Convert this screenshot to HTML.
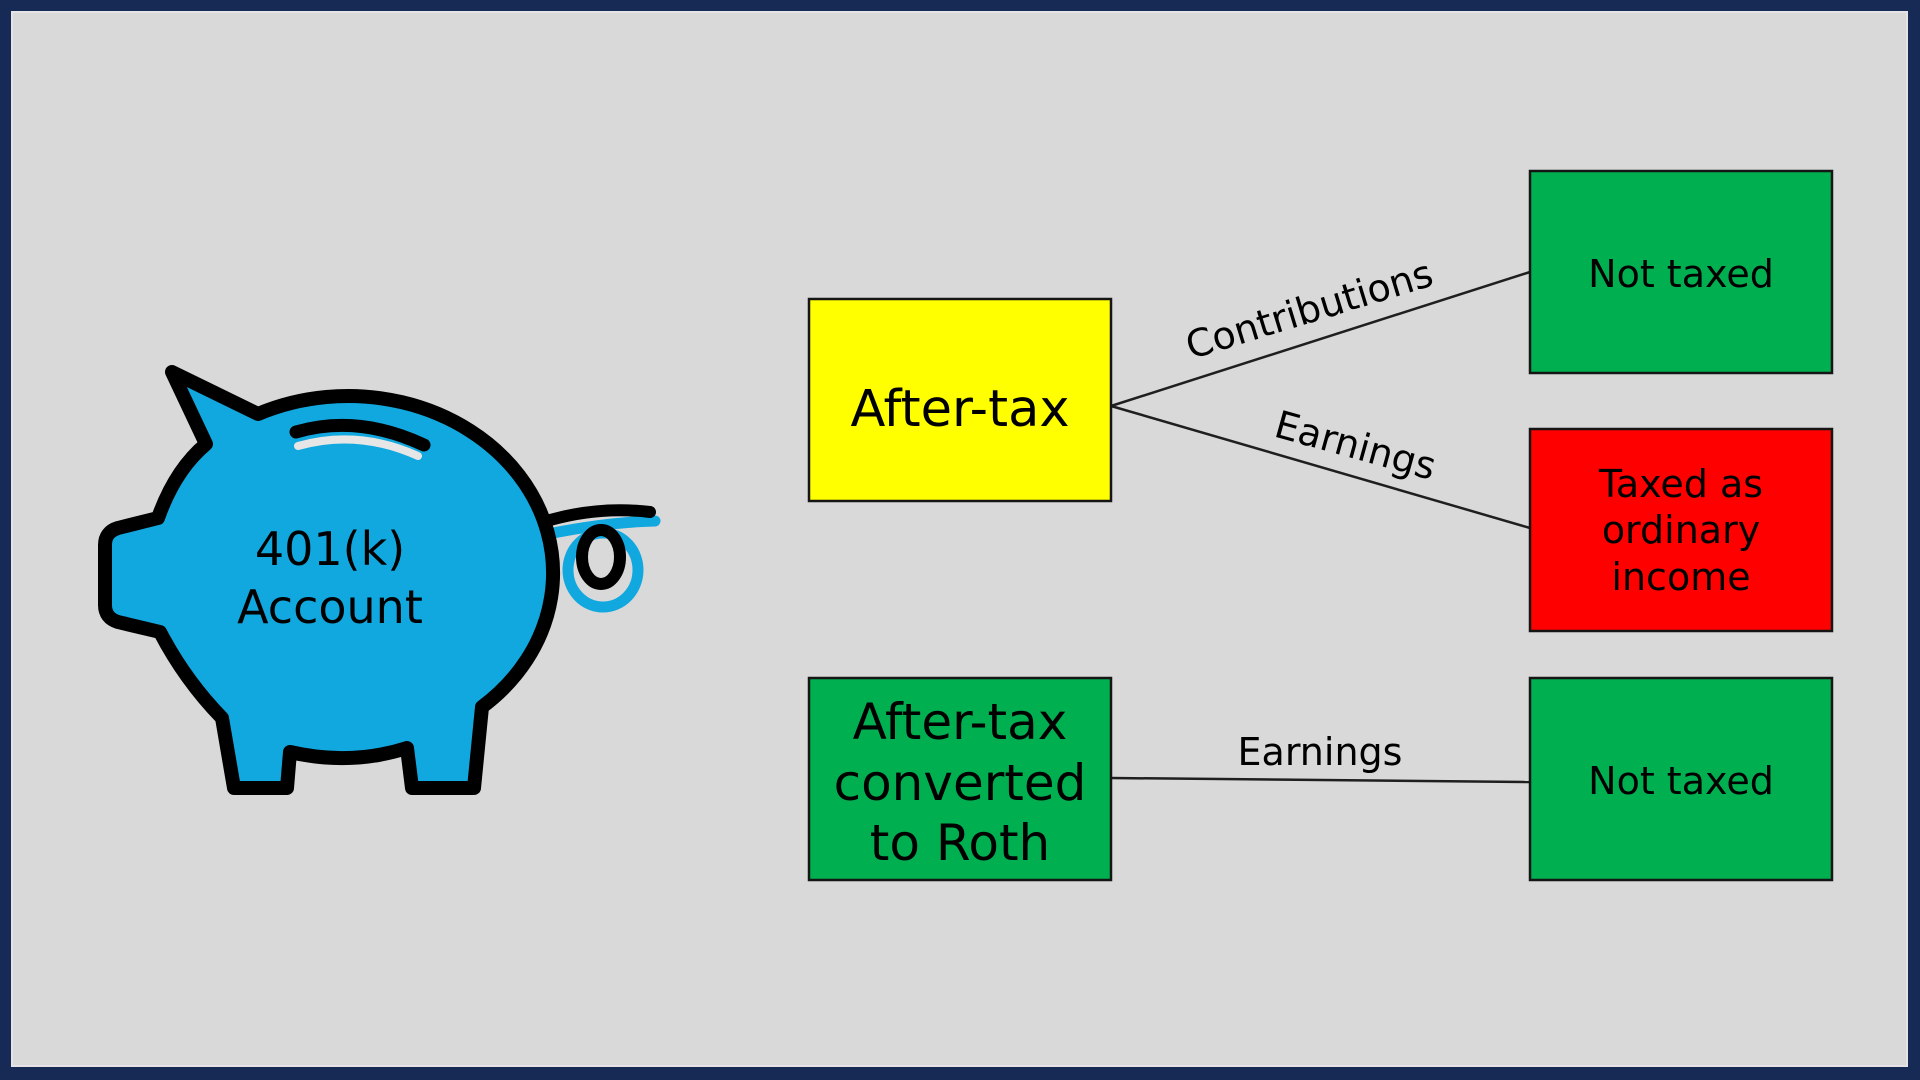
<!DOCTYPE html>
<html>
<head>
<meta charset="utf-8">
<style>
  html, body { margin: 0; padding: 0; width: 1920px; height: 1080px; overflow: hidden; background: #172a55; }
  svg { display: block; }
  text { font-family: "DejaVu Sans", "Liberation Sans", sans-serif; fill: #000; }
</style>
</head>
<body>
<svg width="1920" height="1080" viewBox="0 0 1920 1080" xmlns="http://www.w3.org/2000/svg">
  <!-- frame -->
  <rect x="0" y="0" width="1920" height="1080" fill="#172a55"/>
  <rect x="12" y="12" width="1895" height="1054" fill="#d9d9d9" stroke="#e4e4e6" stroke-width="2"/>

  <!-- Pig tail (behind body) -->
  <g fill="none" stroke-linecap="round">
    <ellipse cx="603" cy="570" rx="35" ry="37" stroke="#11a8e0" stroke-width="11"/>
    <path d="M553,533 Q610,522 655,521" stroke="#11a8e0" stroke-width="11"/>
    <path d="M550,520 Q600,506 650,512" stroke="#000" stroke-width="12"/>
    <ellipse cx="601" cy="557" rx="19" ry="27" stroke="#000" stroke-width="12"/>
  </g>

  <!-- Pig body -->
  <path d="M172,372 L258,414 A205 177 0 0 1 482,707 L474,788 L412,788 L407,748
           Q350,766 290,752 L287,788 L234,788 L222,718
           Q185,680 160,632 L118,622 Q105,618 105,605 L105,545 Q105,532 118,528 L158,518
           Q175,470 206,444 Z"
        fill="#11a8e0" stroke="#000" stroke-width="14" stroke-linejoin="round"/>
  <!-- coin slot -->
  <path d="M298,446 Q358,429 418,456" fill="none" stroke="#e6e6e6" stroke-width="8" stroke-linecap="round"/>
  <path d="M296,432 Q358,414 424,445" fill="none" stroke="#000" stroke-width="13" stroke-linecap="round"/>

  <text x="330" y="565" font-size="46" text-anchor="middle">401(k)</text>
  <text x="330" y="623" font-size="46" text-anchor="middle">Account</text>

  <!-- connectors -->
  <g stroke="#1f1f1f" stroke-width="2.5" fill="none">
    <line x1="1111" y1="406" x2="1530" y2="272"/>
    <line x1="1111" y1="406" x2="1530" y2="528"/>
    <line x1="1111" y1="778" x2="1530" y2="782"/>
  </g>

  <!-- boxes -->
  <g stroke="#151515" stroke-width="2.5">
    <rect x="809" y="299" width="302" height="202" fill="#ffff00"/>
    <rect x="1530" y="171" width="302" height="202" fill="#00b050"/>
    <rect x="1530" y="429" width="302" height="202" fill="#ff0000"/>
    <rect x="809" y="678" width="302" height="202" fill="#00b050"/>
    <rect x="1530" y="678" width="302" height="202" fill="#00b050"/>
  </g>

  <!-- connector labels -->
  <text x="1313" y="322" font-size="38" text-anchor="middle" fill="#1a1a1a" transform="rotate(-17 1313 322)">Contributions</text>
  <text x="1352" y="458" font-size="38" text-anchor="middle" fill="#1a1a1a" transform="rotate(15.5 1352 458)">Earnings</text>
  <text x="1320" y="765" font-size="38" text-anchor="middle" fill="#1a1a1a">Earnings</text>

  <!-- box labels -->
  <text x="960" y="426" font-size="51" text-anchor="middle">After-tax</text>

  <text x="960" y="739" font-size="50" text-anchor="middle">After-tax</text>
  <text x="960" y="800" font-size="50" text-anchor="middle">converted</text>
  <text x="960" y="860" font-size="50" text-anchor="middle">to Roth</text>

  <text x="1681" y="287" font-size="38" text-anchor="middle">Not taxed</text>

  <text x="1681" y="497" font-size="38" text-anchor="middle">Taxed as</text>
  <text x="1681" y="543" font-size="38" text-anchor="middle">ordinary</text>
  <text x="1681" y="590" font-size="38" text-anchor="middle">income</text>

  <text x="1681" y="794" font-size="38" text-anchor="middle">Not taxed</text>
</svg>
</body>
</html>
